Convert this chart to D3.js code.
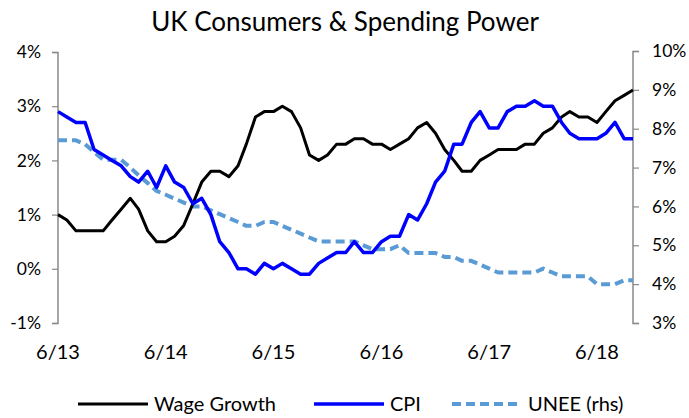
<!DOCTYPE html>
<html>
<head>
<meta charset="utf-8">
<script src="https://cdn.jsdelivr.net/npm/d3@7"></script>
<style>
  body { margin: 0; background: #fff; }
  svg { font-family: Lato, "Open Sans", sans-serif; }
</style>
</head>
<body>
<div class="chart"></div>
<script>
// monthly, Jun 2013 .. Oct 2018
const startMonth = new Date(2013, 5, 1);
const wageGrowth = [1.0,0.9,0.7,0.7,0.7,0.7,0.9,1.1,1.3,1.1,
  0.7,0.5,0.5,0.6,0.8,1.2,1.6,1.8,1.8,1.7,
  1.9,2.3,2.8,2.9,2.9,3.0,2.9,2.6,2.1,2.0,
  2.1,2.3,2.3,2.4,2.4,2.3,2.3,2.2,2.3,2.4,
  2.6,2.7,2.5,2.2,2.0,1.8,1.8,2.0,2.1,2.2,
  2.2,2.2,2.3,2.3,2.5,2.6,2.8,2.9,2.8,2.8,
  2.7,2.9,3.1,3.2,3.3];
const cpi = [2.9,2.8,2.7,2.7,2.2,2.1,2.0,1.9,1.7,1.6,
  1.8,1.5,1.9,1.6,1.5,1.2,1.3,1.0,0.5,0.3,
  0.0,0.0,-0.1,0.1,0.0,0.1,0.0,-0.1,-0.1,0.1,
  0.2,0.3,0.3,0.5,0.3,0.3,0.5,0.6,0.6,1.0,
  0.9,1.2,1.6,1.8,2.3,2.3,2.7,2.9,2.6,2.6,
  2.9,3.0,3.0,3.1,3.0,3.0,2.7,2.5,2.4,2.4,
  2.4,2.5,2.7,2.4,2.4];
const unee = [7.7,7.7,7.7,7.6,7.4,7.2,7.2,7.2,7.0,6.8,
  6.6,6.4,6.3,6.2,6.1,6.0,6.0,5.9,5.8,5.7,
  5.6,5.5,5.5,5.6,5.6,5.5,5.4,5.3,5.2,5.1,
  5.1,5.1,5.1,5.1,5.0,4.9,4.9,4.9,5.0,4.8,
  4.8,4.8,4.8,4.7,4.7,4.6,4.6,4.5,4.4,4.3,
  4.3,4.3,4.3,4.3,4.4,4.3,4.2,4.2,4.2,4.2,
  4.0,4.0,4.0,4.1,4.1];
const xTickYears = [2013, 2014, 2015, 2016, 2017, 2018];
const leftTicks = [-1,0,1,2,3,4];
const rightTicks = [3,4,5,6,7,8,9,10];

const width = 689, height = 418;
const months = wageGrowth.map((d, i) => d3.timeMonth.offset(startMonth, i));

const svg = d3.select(".chart").append("svg")
    .attr("width", width)
    .attr("height", height);

const x = d3.scaleTime()
    .domain(d3.extent(months))
    .range([58, 633]);
const yL = d3.scaleLinear().domain([-1, 4]).range([323, 52]);
const yR = d3.scaleLinear().domain([3, 10]).range([323, 51]);

svg.append("text")
    .attr("x", 345)
    .attr("y", 31)
    .attr("text-anchor", "middle")
    .style("font-size", "26px")
    .text("UK Consumers & Spending Power");

const axisGrey = "#898989";

const leftAxis = svg.append("g")
    .attr("transform", "translate(58,0)")
    .call(d3.axisLeft(yL).tickValues(leftTicks).tickSize(6).tickPadding(11)
        .tickFormat(d => d + "%"));
const rightAxis = svg.append("g")
    .attr("transform", "translate(633,0)")
    .call(d3.axisRight(yR).tickValues(rightTicks).tickSize(6).tickPadding(13)
        .tickFormat(d => d + "%"));

[leftAxis, rightAxis].forEach(ax => {
    ax.select(".domain").attr("stroke", axisGrey).attr("stroke-width", 1.5)
      .attr("d", ax === leftAxis ? "M-6,52.5H0V323.5H-6" : "M6,51.5H0V323.5H6");
    ax.selectAll(".tick line").attr("stroke", axisGrey).attr("stroke-width", 1.2);
    ax.selectAll(".tick text").style("font-size", "17.5px").attr("fill", "#000")
      .style("font-family", "Lato, sans-serif");
});

// date labels, no axis line underneath
svg.append("g").selectAll("text")
    .data(xTickYears)
    .enter()
    .append("text")
    .attr("x", d => x(new Date(d, 5, 1)))
    .attr("y", 359)
    .attr("text-anchor", "middle")
    .style("font-size", "20px")
    .text(d => "6/" + String(d).slice(2));

const series = [
    {name: "Wage Growth", values: wageGrowth, y: yL, color: "#000000", w: 3, dash: null},
    {name: "CPI", values: cpi, y: yL, color: "#0000ff", w: 3.5, dash: null},
    {name: "UNEE (rhs)", values: unee, y: yR, color: "#5b9bd5", w: 4, dash: "9,5"}
];

// dashed one first so the solid lines sit over it
[series[2], series[0], series[1]].forEach(s => {
    const line = d3.line()
        .x((d, i) => x(months[i]))
        .y(d => s.y(d));
    svg.append("path")
        .datum(s.values)
        .attr("fill", "none")
        .attr("stroke", s.color)
        .attr("stroke-width", s.w)
        .attr("stroke-linejoin", "round")
        .attr("stroke-dasharray", s.dash)
        .attr("d", line);
});

const legendX = [78, 314, 452];
const legend = svg.selectAll(".legend")
    .data(series)
    .enter()
    .append("g")
    .attr("transform", (d, i) => `translate(${legendX[i]},404)`);
legend.append("line")
    .attr("x1", 0).attr("x2", 70)
    .attr("stroke", d => d.color)
    .attr("stroke-width", d => d.w)
    .attr("stroke-dasharray", d => d.dash);
legend.append("text")
    .attr("x", 76)
    .attr("y", 7)
    .style("font-size", "20px")
    .text(d => d.name);
</script>
</body>
</html>
